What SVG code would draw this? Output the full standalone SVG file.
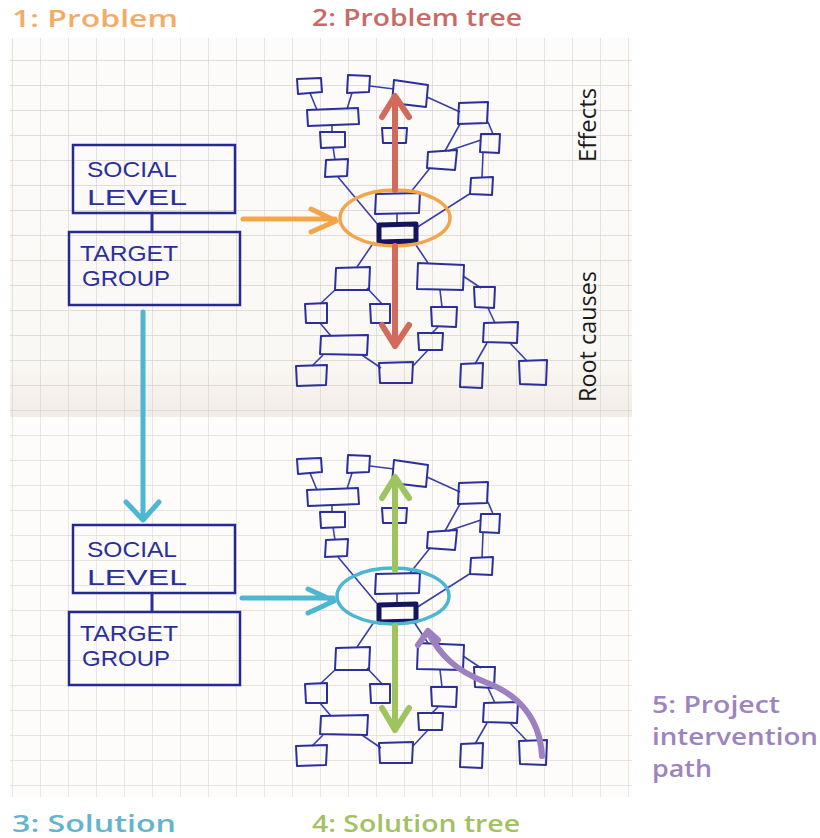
<svg xmlns="http://www.w3.org/2000/svg" width="820" height="838" viewBox="0 0 820 838">
<style>
.lbl{font-family:"Open Sans","Lato","Liberation Sans",sans-serif;font-weight:600;font-size:23px}
.side{font-family:"Open Sans","Liberation Sans",sans-serif;font-size:24px;fill:#1a1a1a}
.hand{font-family:"Liberation Sans","DejaVu Sans",sans-serif;font-size:22px;fill:#2b2f9c}
.box{fill:none;stroke:#2b2f9c;stroke-width:2;stroke-linejoin:round}
.ln{stroke:#3a3fa8;stroke-width:1.6;fill:none}
.bx{fill:none;stroke:#262a8f;stroke-width:2.5}
.arr{fill:none;stroke-linecap:round;stroke-linejoin:round}
</style>
<defs>
<pattern id="grid" x="12" y="10" width="28" height="25" patternUnits="userSpaceOnUse">
<path d="M0 0H28M0 0V25" fill="none" stroke="#d9d2cc" stroke-width="1.3"/>
</pattern>
<linearGradient id="shade" x1="0" y1="0" x2="0" y2="1">
<stop offset="0" stop-color="#fdfcfb"/>
<stop offset="0.85" stop-color="#faf8f5"/>
<stop offset="1" stop-color="#f2ece6"/>
</linearGradient>
<g id="tree">
<g class="ln">
<path d="M310 93L317 110M352 93L347 109M370 86L394 89M427 97L460 112M332 125L332 132M333 147L335 160M338 177L379 226M488 122L493 134M448 151L481 140M460 124L445 151M430 168L410 193M483 153L482 178M471 193L416 228M397 213L397 224M374 242L357 267M414 242L428 263M335 290L320 304M367 288L383 305M320 323L331 336M323 355L312 366M362 355L381 368M413 366L428 350M431 334L438 327M440 290L442 307M463 276L481 288M488 308L495 323M487 343L475 364M510 343L527 361"/>
</g>
<g class="box">
<polygon points="297,79 321,78 322,92 298,94"/>
<polygon points="348,75 370,76 369,92 347,93"/>
<polygon points="394,80 428,85 426,107 392,103"/>
<polygon points="307,110 358,108 359,124 308,126"/>
<polygon points="320,132 345,132 345,147 321,148"/>
<polygon points="326,160 348,159 347,176 325,177"/>
<polygon points="382,128 407,128 406,143 383,143"/>
<polygon points="459,103 488,102 487,123 458,124"/>
<polygon points="481,134 500,134 499,153 480,152"/>
<polygon points="428,152 457,150 455,170 427,168"/>
<polygon points="471,178 493,177 492,195 470,194"/>
<polygon points="376,194 420,193 419,213 375,214"/>
<polygon points="336,268 370,267 369,290 335,290"/>
<polygon points="418,263 464,265 463,290 417,289"/>
<polygon points="305,304 327,303 327,323 306,323"/>
<polygon points="370,304 390,304 390,323 371,323"/>
<polygon points="431,307 457,307 456,327 432,326"/>
<polygon points="474,287 495,287 494,308 475,307"/>
<polygon points="321,336 368,335 367,355 320,354"/>
<polygon points="418,333 443,333 442,350 419,350"/>
<polygon points="484,323 518,322 517,343 483,342"/>
<polygon points="296,366 327,365 326,385 297,386"/>
<polygon points="379,363 413,362 412,383 380,383"/>
<polygon points="461,364 483,363 482,388 460,387"/>
<polygon points="519,361 547,360 546,385 520,384"/>
</g>
<polygon points="379,225 416,224 416,241 379,242" fill="none" stroke="#14155e" stroke-width="5" stroke-linejoin="round"/>
</g>
</defs>

<rect width="820" height="838" fill="#ffffff"/>

<g id="panel-top">
<rect x="10" y="38" width="622" height="379" fill="url(#shade)"/>
<rect x="10" y="38" width="622" height="379" fill="url(#grid)"/>
</g>
<g id="panel-bottom">
<rect x="10" y="417" width="622" height="380" fill="#fdfcfb"/>
<rect x="10" y="417" width="622" height="380" fill="url(#grid)" opacity="0.8"/>
</g>

<text class="lbl" x="12" y="27" fill="#f4ab66" textLength="166" lengthAdjust="spacingAndGlyphs">1: Problem</text>
<text class="lbl" x="312" y="26" fill="#c96a64" textLength="210" lengthAdjust="spacingAndGlyphs">2: Problem tree</text>
<text class="lbl" x="12" y="832" fill="#62b5cc" textLength="164" lengthAdjust="spacingAndGlyphs">3: Solution</text>
<text class="lbl" x="312" y="832" fill="#a3c062" textLength="208" lengthAdjust="spacingAndGlyphs">4: Solution tree</text>
<g id="label-5" class="lbl" fill="#9d84bd">
<text x="652" y="713" textLength="128" lengthAdjust="spacingAndGlyphs">5: Project</text>
<text x="652" y="745" textLength="166" lengthAdjust="spacingAndGlyphs">intervention</text>
<text x="652" y="777" textLength="60" lengthAdjust="spacingAndGlyphs">path</text>
</g>
<text class="side" transform="translate(596,162) rotate(-90)" textLength="74" lengthAdjust="spacingAndGlyphs">Effects</text>
<text class="side" transform="translate(596,402) rotate(-90)" textLength="131" lengthAdjust="spacingAndGlyphs">Root causes</text>

<g id="social-level-1">
<rect class="bx" x="73" y="145" width="162" height="68"/>
<text class="hand" x="87" y="177" textLength="90" lengthAdjust="spacingAndGlyphs">SOCIAL</text>
<text class="hand" x="87" y="205" textLength="100" lengthAdjust="spacingAndGlyphs">LEVEL</text>
</g>
<g id="target-group-1">
<rect class="bx" x="69" y="232" width="171" height="73" stroke-width="3"/>
<text class="hand" x="80" y="261" textLength="98" lengthAdjust="spacingAndGlyphs">TARGET</text>
<text class="hand" x="82" y="286" textLength="88" lengthAdjust="spacingAndGlyphs">GROUP</text>
</g>
<g id="social-level-2">
<rect class="bx" x="73" y="525" width="162" height="68"/>
<text class="hand" x="87" y="557" textLength="90" lengthAdjust="spacingAndGlyphs">SOCIAL</text>
<text class="hand" x="87" y="585" textLength="100" lengthAdjust="spacingAndGlyphs">LEVEL</text>
</g>
<g id="target-group-2">
<rect class="bx" x="69" y="612" width="171" height="73" stroke-width="3"/>
<text class="hand" x="80" y="641" textLength="98" lengthAdjust="spacingAndGlyphs">TARGET</text>
<text class="hand" x="82" y="666" textLength="88" lengthAdjust="spacingAndGlyphs">GROUP</text>
</g>

<g id="problem-tree"><use href="#tree"/></g>
<g id="solution-tree"><use href="#tree" transform="translate(0,380)"/></g>

<g id="connectors">
<path d="M152 213V232M152 593V612" stroke="#2b2f9c" stroke-width="3"/>
<path class="arr" d="M243 219H335M311 209L336 221L311 232" stroke="#f3a54a" stroke-width="5"/>
<ellipse cx="395" cy="218" rx="55" ry="28" fill="none" stroke="#f3a54a" stroke-width="3.5"/>
<path class="arr" d="M395 190V96M382 117L395 96L409 117M395 246V346M382 325L395 346L409 325" stroke="#d36b5c" stroke-width="6"/>
<path class="arr" d="M143 312V519M126 502L143 520L159 502" stroke="#4db6d0" stroke-width="5"/>
<path class="arr" d="M242 598H333M308 589L334 601L308 613" stroke="#4db6d0" stroke-width="5"/>
<ellipse cx="393" cy="596" rx="56" ry="28" fill="none" stroke="#4db6d0" stroke-width="3.5"/>
<path class="arr" d="M395 570V478M382 498L395 477L409 498M395 626V730M382 708L395 730L409 708" stroke="#9dc45f" stroke-width="6"/>
<path class="arr" d="M542 756C540 720 520 695 485 682C455 670 440 655 428 632M418 645L428 631L438 640" stroke="#9c80c0" stroke-width="6"/>
</g>
</svg>
